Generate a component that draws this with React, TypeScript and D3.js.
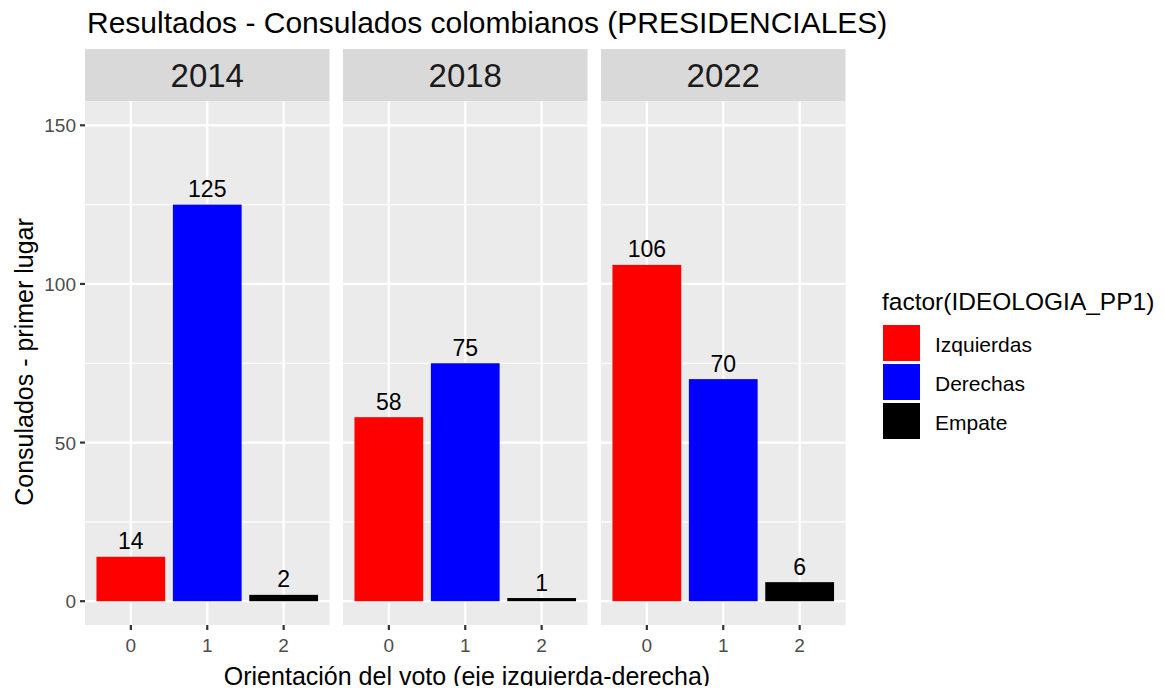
import React from "react";
import * as d3 from "d3";

const years = ["2014", "2018", "2022"];
const categories = ["0", "1", "2"];
const groups = ["Izquierdas", "Derechas", "Empate"];
const groupColors = ["#FF0000", "#0000FF", "#000000"];
const values2014 = [14, 125, 2];
const values2018 = [58, 75, 1];
const values2022 = [106, 70, 6];
const yTicks = [0, 50, 100, 150];
const yMinor = [25, 75, 125];

const seriesByYear = [values2014, values2018, values2022];

const W = 1165;
const H = 694;
const font = "'Liberation Sans', Arial, sans-serif";

const panelTop = 101.5;
const panelBottom = 625;
const stripTop = 49;
const firstLeft = 85;
const panelW = 244.5;
const gap = 13.5;

const y = d3.scaleLinear().domain([-7.5, 157.5]).range([panelBottom, panelTop]);
const color = d3.scaleOrdinal<string, string>().domain(categories).range(groupColors);

const Panel = ({ year, values, index }) => {
    const left = firstLeft + index * (panelW + gap);
    const x = d3.scaleBand()
        .domain(categories)
        .range([left, left + panelW])
        .paddingInner(0.1)
        .paddingOuter(0.15);
    const center = (c) => x(c) + x.bandwidth() / 2;

    return (
        <g>
            {/* strip */}
            <rect x={left} y={stripTop} width={panelW} height={panelTop - stripTop} fill="#D9D9D9" />
            <text x={left + panelW / 2} y={(stripTop + panelTop) / 2 + 12}
                textAnchor="middle" fontSize="33" fill="#1A1A1A">{year}</text>

            {/* panel */}
            <rect x={left} y={panelTop} width={panelW} height={panelBottom - panelTop} fill="#EBEBEB" />
            {yMinor.map((t) => (
                <line key={"m" + t} x1={left} x2={left + panelW} y1={y(t)} y2={y(t)} stroke="#fff" strokeWidth="1.2" />
            ))}
            {yTicks.map((t) => (
                <line key={"M" + t} x1={left} x2={left + panelW} y1={y(t)} y2={y(t)} stroke="#fff" strokeWidth="2.3" />
            ))}
            {categories.map((c) => (
                <line key={"v" + c} x1={center(c)} x2={center(c)} y1={panelTop} y2={panelBottom} stroke="#fff" strokeWidth="2.3" />
            ))}

            {/* bars */}
            {values.map((v, i) => (
                <rect key={"b" + i} x={x(categories[i])} y={y(v)} width={x.bandwidth()}
                    height={y(0) - y(v)} fill={color(categories[i])} />
            ))}
            {values.map((v, i) => (
                <text key={"t" + i} x={center(categories[i])} y={y(v) - 7.5}
                    textAnchor="middle" fontSize="23" fill="#000">{v}</text>
            ))}

            {/* x axis */}
            {categories.map((c) => (
                <g key={"x" + c}>
                    <line x1={center(c)} x2={center(c)} y1={panelBottom} y2={panelBottom + 5} stroke="#333" strokeWidth="2.2" />
                    <text x={center(c)} y={652} textAnchor="middle" fontSize="19" fill="#4D4D4D">{c}</text>
                </g>
            ))}
        </g>
    );
};

export default function App() {
    return (
        <svg width={W} height={H} style={{ display: "block", margin: "-8px", background: "#fff", fontFamily: font }}>
            <rect width={W} height={H} fill="#fff" />
            <text x={87} y={33} fontSize="30" fill="#000">Resultados - Consulados colombianos (PRESIDENCIALES)</text>

            {years.map((yr, i) => (
                <Panel key={yr} year={yr} values={seriesByYear[i]} index={i} />
            ))}

            {/* y axis */}
            {yTicks.map((t) => (
                <g key={"y" + t}>
                    <line x1={firstLeft - 5} x2={firstLeft} y1={y(t)} y2={y(t)} stroke="#333" strokeWidth="2.2" />
                    <text x={firstLeft - 9} y={y(t) + 7} textAnchor="end" fontSize="19" fill="#4D4D4D">{t}</text>
                </g>
            ))}
            <text transform={`translate(33, 362) rotate(-90)`}
                textAnchor="middle" fontSize="25" fill="#000">Consulados - primer lugar</text>
            <text x={467} y={685}
                textAnchor="middle" fontSize="25" fill="#000">Orientación del voto (eje izquierda-derecha)</text>

            {/* legend */}
            <text x={882} y={310} fontSize="24.5" fill="#000">factor(IDEOLOGIA_PP1)</text>
            {groups.map((g, i) => (
                <g key={g}>
                    <rect x={883} y={325 + i * 39} width={37} height={36} fill={groupColors[i]} />
                    <text x={935} y={352 + i * 39} fontSize="21" fill="#000">{g}</text>
                </g>
            ))}
        </svg>
    );
}
